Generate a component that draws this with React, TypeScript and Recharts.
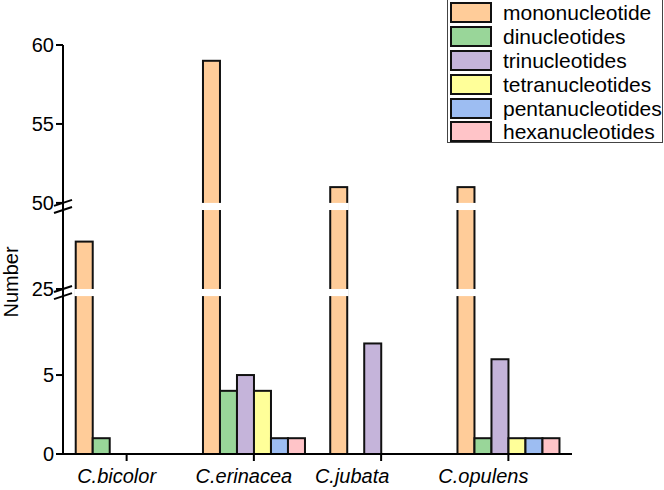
import React from "react";
import { BarChart, Bar, XAxis, YAxis, Legend, ReferenceArea } from "recharts";

// ==================== DATA ====================
const species = ["C.bicolor", "C.erinacea", "C.jubata", "C.opulens"];
const mononucleotide = [28, 59, 51, 51];
const dinucleotides = [1, 4, 0, 1];
const trinucleotides = [0, 5, 7, 6];
const tetranucleotides = [0, 4, 0, 1];
const pentanucleotides = [0, 1, 0, 1];
const hexanucleotides = [0, 1, 0, 1];
const yTickValues = [0, 5, 25, 50, 55, 60];

const series = [
  { key: "mono", name: "mononucleotide", values: mononucleotide, color: "#FFCC99" },
  { key: "di", name: "dinucleotides", values: dinucleotides, color: "#99D699" },
  { key: "tri", name: "trinucleotides", values: trinucleotides, color: "#C5B4DA" },
  { key: "tetra", name: "tetranucleotides", values: tetranucleotides, color: "#FFFF99" },
  { key: "penta", name: "pentanucleotides", values: pentanucleotides, color: "#9DBDF2" },
  { key: "hexa", name: "hexanucleotides", values: hexanucleotides, color: "#FFC4C8" },
];

// broken y axis: visible segments in data units, gap between them in axis units
const segments = [
  [0, 10],
  [25, 30],
  [50, 60],
];
const GAP = 0.45;

function toAxis(v: number) {
  let offset = 0;
  for (const [a, b] of segments) {
    if (v <= b) return offset + Math.max(v - a, 0);
    offset += b - a + GAP;
  }
  return offset - GAP;
}

const gaps = segments.slice(0, -1).map(([, b]) => {
  const start = toAxis(b);
  return [start, start + GAP];
});
const axisTop = toAxis(60);

const data = species.map((name, i) => {
  const row: Record<string, any> = { name };
  series.forEach((s) => (row[s.key] = toAxis(s.values[i])));
  return row;
});

const FONT = "'Liberation Sans', Arial, sans-serif";
const labelShift = [-10, -10, -29, -25];

// ==================== PIECES ====================
function BrokenBar(props: any) {
  const { x, y, width, height, fill, payload, k } = props;
  if (!height || height <= 0) return null;
  const av = payload[k];
  const per = height / av;
  const base = y + height;
  return (
    <g>
      <rect x={x} y={y} width={width} height={height} fill={fill} stroke="#111" strokeWidth={2} />
      {gaps
        .filter(([, g1]) => av > g1)
        .map(([g0, g1], i) => (
          <rect
            key={i}
            x={x - 1.5}
            y={base - g1 * per}
            width={width + 3}
            height={(g1 - g0) * per}
            fill="#fff"
          />
        ))}
    </g>
  );
}

function AxisBreak(props: any) {
  const { x, y, height } = props;
  const bottom = y + height;
  return (
    <g>
      <rect x={x - 3} y={y} width={6} height={height} fill="#fff" />
      <line x1={x - 9} y1={y + 3} x2={x + 9} y2={y - 3} stroke="#000" strokeWidth={2} />
      <line x1={x - 9} y1={bottom + 3} x2={x + 9} y2={bottom - 3} stroke="#000" strokeWidth={2} />
    </g>
  );
}

function CategoryTick(props: any) {
  const { x, y, payload, index } = props;
  return (
    <text
      x={x + (labelShift[index] || 0)}
      y={y}
      dy="0.71em"
      textAnchor="middle"
      fontFamily={FONT}
      fontSize={20}
      fontStyle="italic"
      fill="#000"
    >
      {payload.value}
    </text>
  );
}

function LegendBox() {
  return (
    <div
      style={{
        border: "1px solid #444",
        background: "#fff",
        width: 216,
        height: 144,
        boxSizing: "border-box",
        paddingTop: 1,
        paddingLeft: 2,
        fontFamily: FONT,
      }}
    >
      {series.map((s) => (
        <div key={s.key} style={{ display: "flex", alignItems: "center", height: 23.8 }}>
          <div
            style={{
              width: 38,
              height: 17,
              background: s.color,
              border: "2px solid #111",
              marginRight: 11,
            }}
          />
          <span style={{ fontSize: 21, color: "#000", lineHeight: "21px" }}>{s.name}</span>
        </div>
      ))}
    </div>
  );
}

// ==================== CHART ====================
export default function App() {
  const ticks = yTickValues.map(toAxis);
  return (
    <div style={{ position: "absolute", left: 0, top: 0, background: "#fff" }}>
      <BarChart
        width={664}
        height={490}
        data={data}
        margin={{ top: 45, right: 92, left: 0, bottom: 0 }}
        barCategoryGap="10%"
        barGap={0}
      >
        <XAxis
          dataKey="name"
          height={36}
          tickSize={7}
          tickMargin={8}
          axisLine={{ stroke: "#000", strokeWidth: 2 }}
          tickLine={{ stroke: "#000", strokeWidth: 2 }}
          tick={<CategoryTick />}
          interval={0}
        />
        <YAxis
          type="number"
          width={63}
          domain={[0, axisTop]}
          ticks={ticks}
          interval={0}
          tickSize={7}
          tickMargin={2}
          axisLine={{ stroke: "#000", strokeWidth: 2 }}
          tickLine={{ stroke: "#000", strokeWidth: 2 }}
          tick={{ fontSize: 20, fill: "#000", fontFamily: FONT }}
          tickFormatter={(v: number) => String(yTickValues[ticks.findIndex((t) => Math.abs(t - v) < 1e-6)])}
          label={{
            content: () => (
              <text
                x={18}
                y={282}
                transform="rotate(-90 18 282)"
                textAnchor="middle"
                fontFamily={FONT}
                fontSize={20}
                fill="#000"
              >
                Number
              </text>
            ),
          }}
        />
        <Legend
          layout="vertical"
          align="center"
          verticalAlign="middle"
          wrapperStyle={{ top: -1, left: 447, width: 217 }}
          content={() => <LegendBox />}
        />
        {series.map((s) => (
          <Bar
            key={s.key}
            dataKey={s.key}
            name={s.name}
            fill={s.color}
            isAnimationActive={false}
            shape={(p: any) => <BrokenBar {...p} k={s.key} />}
          />
        ))}
        {gaps.map(([g0, g1], i) => (
          <ReferenceArea
            key={i}
            y1={g0}
            y2={g1}
            ifOverflow="visible"
            shape={(p: any) => <AxisBreak {...p} />}
          />
        ))}
      </BarChart>
    </div>
  );
}
